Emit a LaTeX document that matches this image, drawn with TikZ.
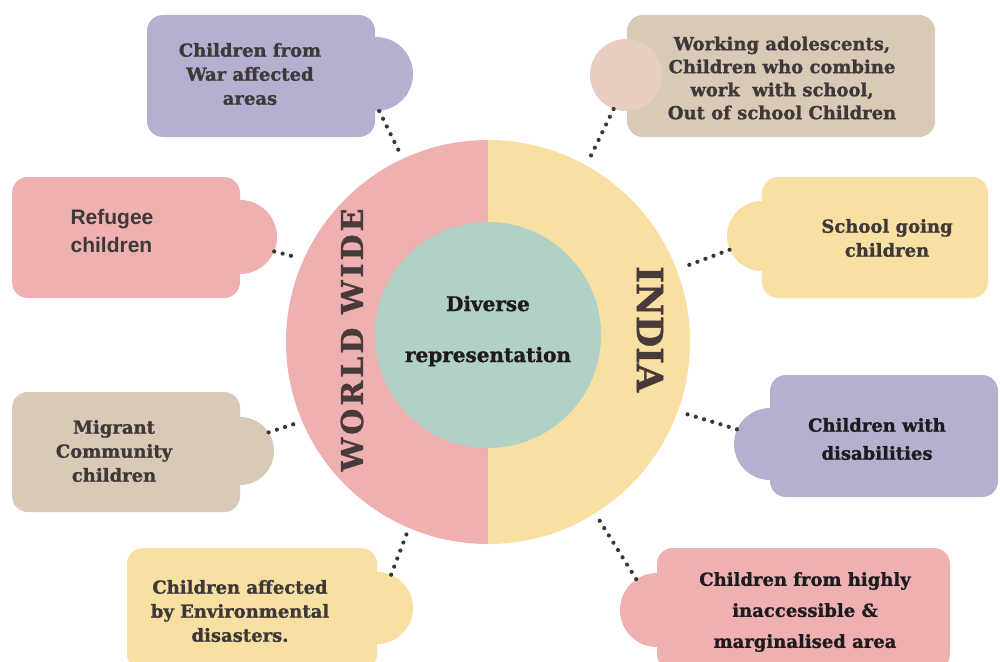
\documentclass[tikz,border=0pt]{standalone}
\usepackage{fontspec}
\setmainfont{DejaVu Serif}[BoldFeatures={FakeBold=1.2}]
\newfontfamily\sansf{Liberation Sans}
\definecolor{purp}{RGB}{181,175,208}
\definecolor{tanc}{RGB}{217,201,183}
\definecolor{pinkc}{RGB}{238,176,176}
\definecolor{yel}{RGB}{248,223,162}
\definecolor{tealc}{RGB}{177,208,198}
\definecolor{lpink}{RGB}{232,205,195}
\definecolor{txt}{RGB}{62,56,56}
\definecolor{txtd}{RGB}{30,27,31}
\definecolor{txtb}{RGB}{72,58,58}
\definecolor{dotc}{RGB}{55,55,58}
\begin{document}
\begin{tikzpicture}[x=1pt,y=-1pt,
  cbox/.style={rounded corners=16pt, inner sep=0pt},
  tab/.style={circle, inner sep=0pt, minimum size=74pt},
  lbl/.style={align=center, text=txt, font=\bfseries\fontsize{18}{24}\selectfont},
  dots/.style={line width=4.2pt, line cap=round, dash pattern=on 0pt off 8.6pt, draw=dotc}]
\useasboundingbox (0,0) rectangle (1000,661);
\clip (0,0) rectangle (1000,661);
\fill[white] (0,0) rectangle (1000,661);

% central ring
\begin{scope}
\clip (0,0) rectangle (488,661);
\fill[pinkc] (488,342) circle[radius=202pt];
\end{scope}
\begin{scope}
\clip (488,0) rectangle (1000,661);
\fill[yel] (488,342) circle[radius=202pt];
\end{scope}
\node[circle, minimum size=414pt, inner sep=0pt] (ring) at (488,342) {};
\node[circle, fill=tealc, minimum size=226pt, inner sep=0pt] (core) at (488,335) {};
\node[align=center, text=txtd, font=\bfseries\fontsize{20}{51}\selectfont] (ct) at (488,331) {Diverse\\representation};
\node[rotate=90, text=txtb, font=\bfseries\fontsize{30}{30}\selectfont\addfontfeature{LetterSpace=10}] (ww) at (352,340) {WORLD WIDE};
\node[rotate=-90, text=txtb, font=\bfseries\fontsize{36}{36}\selectfont] (in) at (650,329) {INDIA};

% box 1
\node[tab, fill=purp] (t1) at (376,74) {};
\node[cbox, fill=purp, minimum width=228pt, minimum height=122pt] (b1) at (261,76) {};
\node[lbl] (l1) at (250,74) {Children from\\War affected\\areas};

% box 2
\node[cbox, fill=tanc, minimum width=308pt, minimum height=122pt] (b2) at (781,76) {};
\node[tab, fill=lpink, minimum size=72pt] (t2) at (626,75) {};
\node[lbl, font=\bfseries\fontsize{18}{23}\selectfont] (l2) at (782,78) {Working adolescents,\\Children who combine\\work\ \ with school,\\Out of school Children};

% box 3
\node[tab, fill=pinkc] (t3) at (240,237) {};
\node[cbox, fill=pinkc, minimum width=228pt, minimum height=121pt] (b3) at (126,237.5) {};
\node[align=left, text=txt, font=\sansf\bfseries\fontsize{21}{28}\selectfont] (l3) at (112,231) {Refugee\\children};

% box 4
\node[tab, fill=yel, minimum size=70pt] (t4) at (762,236) {};
\node[cbox, fill=yel, minimum width=226pt, minimum height=121pt] (b4) at (875,237.5) {};
\node[lbl] (l4) at (887,238) {School going\\children};

% box 5
\node[tab, fill=tanc, minimum size=68pt] (t5) at (240,451) {};
\node[cbox, fill=tanc, minimum width=228pt, minimum height=120pt] (b5) at (126,452) {};
\node[lbl] (l5) at (114,451) {Migrant\\Community\\children};

% box 6
\node[tab, fill=purp, minimum size=72pt] (t6) at (770,444) {};
\node[cbox, fill=purp, minimum width=228pt, minimum height=122pt] (b6) at (884,436) {};
\node[lbl, text=txtd, font=\bfseries\fontsize{18}{28}\selectfont] (l6) at (877,439) {Children with\\disabilities};

% box 7
\node[tab, fill=yel, minimum size=72pt] (t7) at (377,608) {};
\node[cbox, fill=yel, minimum width=250pt, minimum height=122pt] (b7) at (252,609) {};
\node[lbl] (l7) at (240,611) {Children affected\\by Environmental\\disasters.};

% box 8
\node[tab, fill=pinkc, minimum size=74pt] (t8) at (657,610) {};
\node[cbox, fill=pinkc, minimum width=293pt, minimum height=122pt] (b8) at (803.5,609) {};
\node[lbl, text=txtd, font=\bfseries\fontsize{18}{31}\selectfont] (l8) at (805,612) {Children from highly\\inaccessible \&\\marginalised area};

% connectors
\draw[dots] (t1.-85) -- (ring.115);
\draw[dots] (t2.250) -- (ring.61.6);
\draw[dots] (t3.-23) -- (ring.156);
\draw[dots] (t4.203) -- (ring.21);
\draw[dots] (t5.33) -- (ring.203);
\draw[dots] (t6.156) -- (ring.340.6);
\draw[dots] (t7.67) -- (ring.247.7);
\draw[dots] (t8.124) -- (ring.302.5);
\end{tikzpicture}
\end{document}
